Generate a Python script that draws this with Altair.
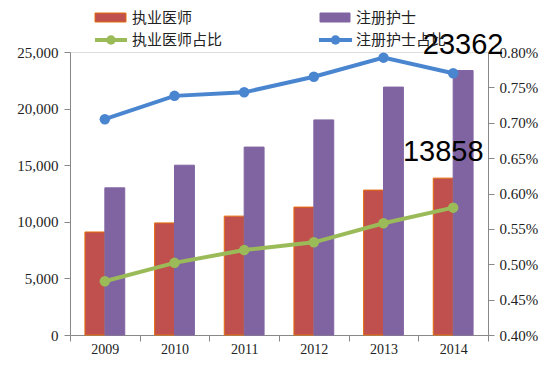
import altair as alt
import pandas as pd

years = ["2009", "2010", "2011", "2012", "2013", "2014"]
doctors = [9100, 9900, 10500, 11300, 12800, 13858]
nurses = [13000, 15000, 16600, 19000, 21900, 23362]
doctor_pct = [0.00476, 0.00502, 0.00520, 0.00531, 0.00558, 0.00580]
nurse_pct = [0.00705, 0.00738, 0.00743, 0.00765, 0.00792, 0.00770]

bar_series = ["执业医师", "注册护士"]
line_series = ["执业医师占比", "注册护士占比"]

bars = pd.DataFrame(
    [{"year": y, "series": bar_series[0], "value": v} for y, v in zip(years, doctors)]
    + [{"year": y, "series": bar_series[1], "value": v} for y, v in zip(years, nurses)]
)
lines = pd.DataFrame(
    [{"year": y, "series": line_series[0], "pct": v} for y, v in zip(years, doctor_pct)]
    + [{"year": y, "series": line_series[1], "pct": v} for y, v in zip(years, nurse_pct)]
)
labels = bars[bars["year"] == years[-1]].copy()
labels["label"] = labels["value"].astype(str)

RED = "#C0504D"
PURPLE = "#8064A2"
GREEN = "#9BBB59"
BLUE = "#4A86D0"
SERIF = "Liberation Serif"
CJK = "Noto Sans CJK SC"

xenc = alt.X(
    "year:N",
    sort=years,
    scale=alt.Scale(paddingInner=0, paddingOuter=0),
    axis=alt.Axis(
        title=None, labelAngle=0, labelFont=SERIF, labelFontSize=14, labelColor="#222",
        tickBand="extent", domainColor="#888", tickColor="#888", tickSize=6, labelPadding=1,
    ),
)

yleft = alt.Y("value:Q", scale=alt.Scale(domain=[0, 25000]),
              axis=alt.Axis(title=None, values=[0, 5000, 10000, 15000, 20000, 25000],
                            format=",.0f", formatType="number",
                            grid=False, labelFont=SERIF, labelFontSize=15, labelColor="#222",
                            domainColor="#888", tickColor="#888", tickSize=6, labelPadding=6))

bar_layer = alt.Chart(bars).mark_bar(strokeWidth=1).encode(
    x=xenc,
    xOffset=alt.XOffset("series:N", sort=bar_series,
                        scale=alt.Scale(paddingInner=0, paddingOuter=0.75)),
    y=yleft,
    color=alt.Color("series:N", sort=bar_series,
                    scale=alt.Scale(domain=bar_series, range=[RED, PURPLE]), legend=None),
    stroke=alt.Stroke("series:N", sort=bar_series,
                      scale=alt.Scale(domain=bar_series, range=["#E46C0A", PURPLE]), legend=None),
)

text_layer = alt.Chart(labels).mark_text(
    font="Liberation Sans", fontSize=29, baseline="bottom", dy=-11, color="#000"
).encode(
    x=alt.X("year:N", sort=years),
    xOffset=alt.XOffset("series:N", sort=bar_series),
    y=yleft,
    text="label:N",
)

left = alt.layer(bar_layer, text_layer)

line_layer = alt.Chart(lines).mark_line(
    strokeWidth=4, point=alt.OverlayMarkDef(size=110, filled=True, opacity=1)
).encode(
    x=alt.X("year:N", sort=years),
    y=alt.Y("pct:Q", scale=alt.Scale(domain=[0.004, 0.008]),
            axis=alt.Axis(title=None, orient="right", format=".2%",
                          values=[0.004, 0.0045, 0.005, 0.0055, 0.006, 0.0065, 0.007, 0.0075, 0.008],
                          grid=False, labelFont=SERIF, labelFontSize=15, labelColor="#222",
                          domainColor="#888", tickColor="#888", tickSize=6, labelPadding=5)),
    color=alt.Color("series:N", sort=line_series,
                    scale=alt.Scale(domain=line_series, range=[GREEN, BLUE]), legend=None),
)

# custom legend
leg_rect = pd.DataFrame({"name": bar_series, "col": [0, 1]})
leg_line = pd.DataFrame({"name": line_series, "col": [0, 1]})

def legrect(col, x1, x2, y1, y2):
    return alt.Chart(leg_rect).mark_rect(strokeWidth=1).encode(
        x=alt.value(x1), x2=alt.value(x2), y=alt.value(y1), y2=alt.value(y2),
        color=alt.Color("name:N", scale=alt.Scale(domain=bar_series, range=[RED, PURPLE]), legend=None),
        stroke=alt.Stroke("name:N", scale=alt.Scale(domain=bar_series, range=["#E46C0A", PURPLE]), legend=None),
    ).transform_filter(f"datum.col == {col}")

def legtext(df, col, x, y):
    return alt.Chart(df).mark_text(font=CJK, fontSize=15, align="left", baseline="middle",
                                   color="#222").encode(
        x=alt.value(x), y=alt.value(y), text="name:N"
    ).transform_filter(f"datum.col == {col}")

def legline(df, col, x1, x2, y, c):
    r = alt.Chart(df).mark_rule(strokeWidth=4, color=c).encode(
        x=alt.value(x1), x2=alt.value(x2), y=alt.value(y)
    ).transform_filter(f"datum.col == {col}")
    p = alt.Chart(df).mark_point(filled=True, size=90, opacity=1, color=c).encode(
        x=alt.value((x1 + x2) / 2), y=alt.value(y)
    ).transform_filter(f"datum.col == {col}")
    return r + p

legend = alt.layer(
    legrect(0, 25, 56, -39, -30), legrect(1, 250, 280, -39, -30),
    legtext(leg_rect, 0, 62, -34), legtext(leg_rect, 1, 286, -34),
    legline(leg_line, 0, 25, 57, -12, GREEN), legline(leg_line, 1, 249, 282, -12, BLUE),
    legtext(leg_line, 0, 62, -12), legtext(leg_line, 1, 286, -12),
)

chart = alt.layer(left, line_layer, legend).resolve_scale(
    y="independent", color="independent", stroke="independent"
).properties(
    width=418, height=283,
    autosize=alt.AutoSizeParams(type="none"),
    padding={"left": 62, "top": 44, "right": 56, "bottom": 22},
).configure_view(stroke=None).configure(background="white")

chart.save("out.html", embed_options={"renderer": "svg", "actions": False})
